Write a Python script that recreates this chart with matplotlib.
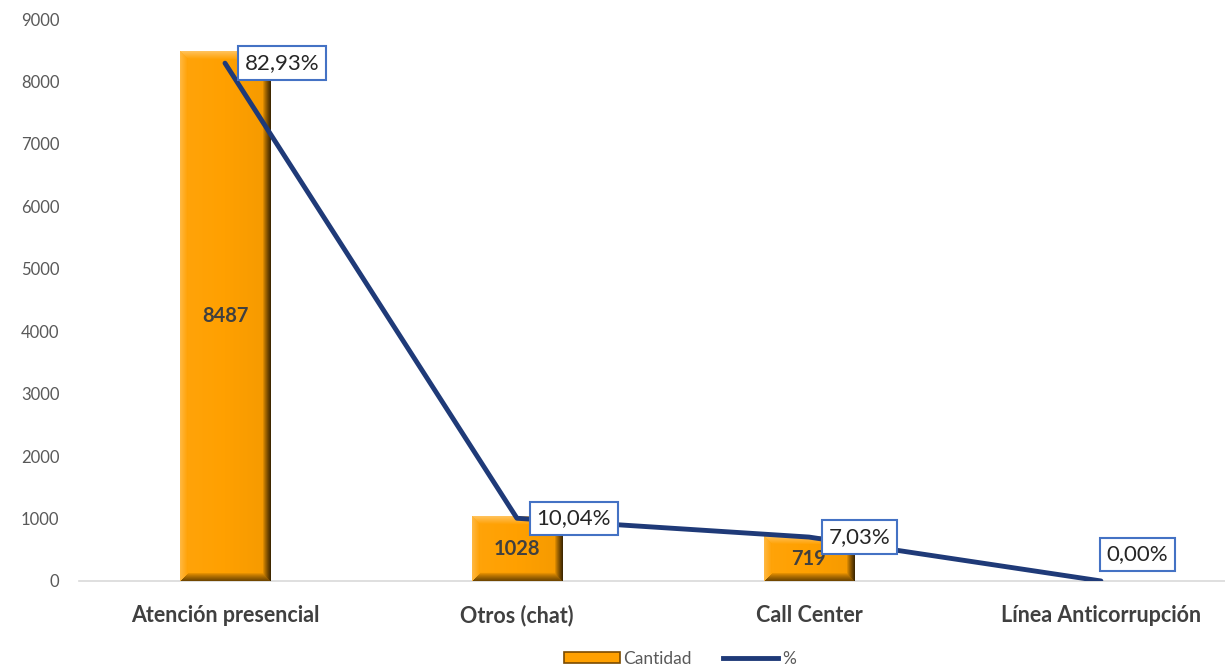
import numpy as np
import matplotlib.pyplot as plt
from matplotlib.lines import Line2D
from matplotlib.patches import Patch

plt.rcParams['font.family'] = ['Lato', 'DejaVu Sans']

categorias = ["Atención presencial", "Otros (chat)", "Call Center", "Línea Anticorrupción"]
cantidad = [8487, 1028, 719, 0]
porcentaje = [82.93, 10.04, 7.03, 0.00]
etiquetas_pct = ["82,93%", "10,04%", "7,03%", "0,00%"]

naranja = np.array([255, 160, 0]) / 255.0
azul = '#1F3A78'
gris_txt = '#595959'
gris_cat = '#404040'

fig = plt.figure(figsize=(12.25, 6.67), dpi=100)
ax = fig.add_axes([0.0645, 0.129, 0.9355, 0.8425])
ax2 = ax.twinx()

x = np.arange(len(categorias))
bars = ax.bar(x, cantidad, width=0.31, color=naranja, zorder=2)
ax.set_xlim(-0.5, 3.425)
ax.set_ylim(0, 9000)
ax2.set_ylim(0, 90)


def bevel_image(w, h, b=8):
    """RGB image of a bevelled bar face, w x h pixels."""
    cols = np.arange(w)[None, :].repeat(h, 0).astype(float)
    rows = np.arange(h)[:, None].repeat(w, 1).astype(float)
    dl, dr = cols, w - 1 - cols
    dt, db = rows, h - 1 - rows
    dmin = np.minimum(np.minimum(dl, dr), np.minimum(dt, db))
    s = np.zeros((h, w))
    # face: slight horizontal gradient
    s += 0.08 * (1 - cols / max(w - 1, 1)) - 0.04
    zone = dmin < b
    t = 1 - dmin / b
    left = zone & (dl == dmin)
    top = zone & (dt == dmin) & ~left
    right = zone & (dr == dmin) & ~left & ~top
    bottom = zone & (db == dmin) & ~left & ~top & ~right
    s[left] = 0.25 * t[left]
    s[top] = 0.35 * t[top]
    s[right] = -0.75 * t[right] ** 0.8
    s[bottom] = -0.55 * t[bottom] ** 0.8
    img = np.empty((h, w, 3))
    for c in range(3):
        base = naranja[c]
        img[..., c] = np.where(s >= 0, base + s * (1 - base), base * (1 + s))
    return np.clip(img, 0, 1)


fig.canvas.draw()
for bar in bars:
    hgt = bar.get_height()
    if hgt <= 0:
        continue
    ext = bar.get_window_extent()
    w = max(int(round(ext.width)), 2)
    h = max(int(round(ext.height)), 2)
    img = bevel_image(w, h)
    x0 = bar.get_x()
    ax.imshow(img, extent=(x0, x0 + bar.get_width(), 0, hgt), aspect='auto',
              zorder=3, interpolation='bilinear')
ax.set_xlim(-0.5, 3.425)
ax.set_ylim(0, 9000)

for xi, v in zip(x, cantidad):
    if v > 0:
        ax.text(xi, v / 2, f"{v}", ha='center', va='center', fontsize=14.5,
                fontweight='bold', color=gris_cat, zorder=4)

ax2.plot(x, porcentaje, color=azul, lw=3.5, solid_capstyle='round', zorder=3)

offsets = [(14, 0), (14, 0), (14, 0), (4, 19)]
for xi, p, lab, off in zip(x, porcentaje, etiquetas_pct, offsets):
    ax2.annotate(lab, (xi, p), xytext=off, textcoords='offset points',
                 ha='left', va='center', fontsize=16, color='#262626', zorder=5,
                 bbox=dict(boxstyle='square,pad=0.3', fc='white', ec='#4472C4', lw=1.5))

for a in (ax, ax2):
    for sp in ('top', 'right', 'left'):
        a.spines[sp].set_visible(False)
ax2.spines['bottom'].set_visible(False)
ax.spines['bottom'].set_color('#D9D9D9')
ax.spines['bottom'].set_linewidth(1.2)
ax2.set_yticks([])

ax.set_yticks(np.arange(0, 9001, 1000))
ax.tick_params(axis='y', length=0, labelsize=12, labelcolor=gris_txt, pad=14)
ax.set_xticks(x)
ax.set_xticklabels(categorias, fontsize=15.5, fontweight='bold', color=gris_cat)
ax.tick_params(axis='x', length=0, pad=17)

handles = [Patch(facecolor=naranja, edgecolor='#7A4A00', lw=1.2, label='Cantidad'),
           Line2D([0], [0], color=azul, lw=3.5, label='%')]
fig.legend(handles=handles, loc='center', bbox_to_anchor=(0.555, 0.012),
           ncol=2, frameon=False, fontsize=12.5, labelcolor=gris_txt,
           handlelength=3.2, handleheight=0.6, columnspacing=1.8, handletextpad=0.2)

fig.savefig('out.png', dpi=100)
